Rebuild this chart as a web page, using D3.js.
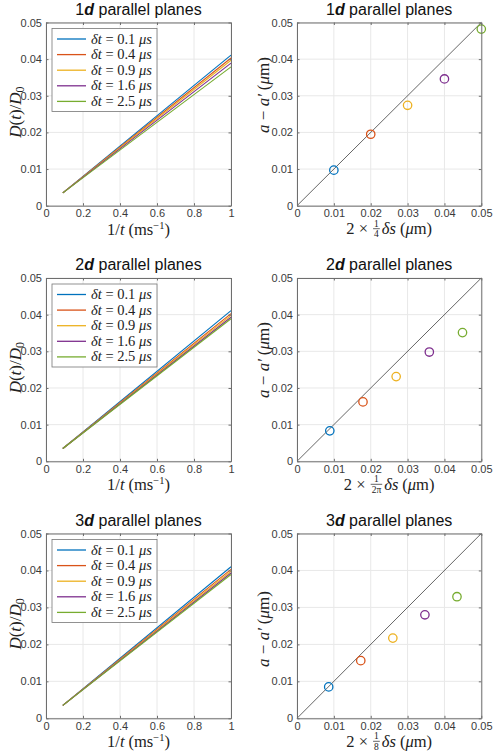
<!DOCTYPE html>
<html><head><meta charset="utf-8">
<script src="https://cdn.jsdelivr.net/npm/d3@7"></script>
<style>body{margin:0;background:#fff}svg{display:block}</style>
</head><body>
<svg id="c" width="494" height="753"></svg>
<script>
// ---------- data ----------
const colors = ["#0072BD", "#D95319", "#EDB120", "#7E2F8E", "#77AC30"];
const legendLabels = ["0.1", "0.4", "0.9", "1.6", "2.5"];
const dims = ["1", "2", "3"];
const xTicksLeft = [0, 0.2, 0.4, 0.6, 0.8, 1];
const yTicks = [0, 0.01, 0.02, 0.03, 0.04, 0.05];
const xTicksRight = [0, 0.01, 0.02, 0.03, 0.04, 0.05];
// line series: x (1/t) and D(t)/D0 values per δt
const lineX = [0.091, 1.0];
const lines1d = [[0.0035, 0.0411], [0.0035, 0.0403], [0.0035, 0.0397], [0.0035, 0.0389], [0.0035, 0.0379]];
const lines2d = [[0.0035, 0.0411], [0.0035, 0.0403], [0.0035, 0.0398], [0.0035, 0.0393], [0.0035, 0.0389]];
const lines3d = [[0.0035, 0.0410], [0.0035, 0.0403], [0.0035, 0.0398], [0.0035, 0.0393], [0.0035, 0.0389]];
// scatter: x = 2 × factor × δs, y = a − a'
const scatX1d = [0.010, 0.020, 0.030, 0.040, 0.050];
const scatY1d = [0.0097, 0.0195, 0.0274, 0.0346, 0.0482];
const scatX2d = [0.0089, 0.0179, 0.0269, 0.0359, 0.0449];
const scatY2d = [0.0083, 0.0162, 0.0231, 0.0298, 0.0351];
const scatX3d = [0.0086, 0.0173, 0.0260, 0.0347, 0.0434];
const scatY3d = [0.0085, 0.0156, 0.0217, 0.0280, 0.0329];
const fracDen = ["4", "2π", "8"];

const linesAll = [lines1d, lines2d, lines3d];
const scatXAll = [scatX1d, scatX2d, scatX3d];
const scatYAll = [scatY1d, scatY2d, scatY3d];

// ---------- layout ----------
const svg = d3.select("#c");
const rows = [{top: 22.5, bot: 205.7}, {top: 278, bot: 461.3}, {top: 533.5, bot: 718.3}];
const leftX = [46, 231];
const rightX = [297, 481.3];
const rightYLabelC = [95, 360, 629];
const SERIF = "'Liberation Serif','Times New Roman',serif";
const SANS = "'Liberation Sans',Arial,Helvetica,sans-serif";
const AXC = "#6e6e6e";

function rich(parent, cx, cy, parts, rot) {
  const outer = parent.append("g").attr("transform", `translate(${cx},${cy}) rotate(${rot || 0})`);
  const g = outer.append("g");
  let x = 0;
  parts.forEach(p => {
    if (p.frac) {
      const fs = 9.5;
      const n = g.append("text").text(p.frac[0]).attr("font-family", SERIF).attr("font-size", fs).attr("fill", "#222");
      const d = g.append("text").text(p.frac[1]).attr("font-family", SERIF).attr("font-size", fs).attr("fill", "#222");
      const w = Math.max(n.node().getComputedTextLength(), d.node().getComputedTextLength()) + 2;
      n.attr("x", x + 1 + w / 2).attr("y", -7.5).attr("text-anchor", "middle");
      d.attr("x", x + 1 + w / 2).attr("y", 3).attr("text-anchor", "middle");
      g.append("line").attr("x1", x + 1).attr("x2", x + 1 + w).attr("y1", -5.5).attr("y2", -5.5)
        .attr("stroke", "#222").attr("stroke-width", 0.7);
      x += w + 3;
    } else {
      const t = g.append("text").text(p.t).attr("x", x).attr("y", p.dy || 0)
        .attr("font-family", SERIF).attr("font-size", p.size || 17)
        .attr("font-style", p.it ? "italic" : "normal").attr("fill", "#222")
        .style("white-space", "pre");
      x += t.node().getComputedTextLength() + (p.sp || 0);
    }
  });
  g.attr("transform", `translate(${-x / 2},0)`);
  return outer;
}

function title(cx, y, dim) {
  const t = svg.append("text").attr("x", cx).attr("y", y).attr("text-anchor", "middle")
    .attr("font-family", SANS).attr("font-size", 16).attr("fill", "#111");
  t.append("tspan").text(dim);
  t.append("tspan").text("d").attr("font-weight", "bold").attr("font-style", "italic");
  t.append("tspan").text(" parallel planes");
}

function frame(x, y, xTicks) {
  const g = svg.append("g");
  const [x0, x1] = x.range();
  const [y0, y1] = y.range();
  xTicks.forEach(v => g.append("line").attr("x1", x(v)).attr("x2", x(v)).attr("y1", y0).attr("y2", y1)
    .attr("stroke", "#e8e8e8").attr("stroke-width", 1));
  yTicks.forEach(v => g.append("line").attr("x1", x0).attr("x2", x1).attr("y1", y(v)).attr("y2", y(v))
    .attr("stroke", "#e8e8e8").attr("stroke-width", 1));
  return g;
}

function axes(x, y, xTicks, fmtX) {
  const [x0, x1] = x.range();
  const [y0, y1] = y.range();
  const ax = svg.append("g").attr("transform", `translate(0,${y0})`)
    .call(d3.axisBottom(x).tickValues(xTicks).tickSizeInner(-2.5).tickSizeOuter(0).tickPadding(4).tickFormat(fmtX));
  const ay = svg.append("g").attr("transform", `translate(${x0},0)`)
    .call(d3.axisLeft(y).tickValues(yTicks).tickSizeInner(-2.5).tickSizeOuter(0).tickPadding(4).tickFormat(d => d === 0 ? "0" : d3.format(".2f")(d)));
  const at = svg.append("g").attr("transform", `translate(0,${y1})`)
    .call(d3.axisTop(x).tickValues(xTicks).tickSizeInner(-2.5).tickSizeOuter(0).tickFormat(""));
  const ar = svg.append("g").attr("transform", `translate(${x1},0)`)
    .call(d3.axisRight(y).tickValues(yTicks).tickSizeInner(-2.5).tickSizeOuter(0).tickFormat(""));
  [ax, ay, at, ar].forEach(a => {
    a.select(".domain").attr("stroke", AXC);
    a.selectAll(".tick line").attr("stroke", AXC);
    a.selectAll(".tick text").attr("font-family", SANS).attr("font-size", 11).attr("fill", "#3a3a3a");
  });
}

rows.forEach((r, i) => {
  // ---------- left panel ----------
  const xl = d3.scaleLinear().domain([0, 1]).range(leftX);
  const yl = d3.scaleLinear().domain([0, 0.05]).range([r.bot, r.top]);
  frame(xl, yl, xTicksLeft);
  const line = d3.line().x(d => xl(d[0])).y(d => yl(d[1]));
  linesAll[i].forEach((s, k) => {
    svg.append("path").datum(lineX.map((xv, j) => [xv, s[j]])).attr("d", line)
      .attr("fill", "none").attr("stroke", colors[k]).attr("stroke-width", 1.1);
  });
  axes(xl, yl, xTicksLeft, d => d === 0 ? "0" : d === 1 ? "1" : d3.format(".1f")(d));
  // legend
  const lx = leftX[0] + 6, ly = r.top + 6, lw = 105, lh = 83;
  const lg = svg.append("g");
  lg.append("rect").attr("x", lx).attr("y", ly).attr("width", lw).attr("height", lh)
    .attr("fill", "#fff").attr("stroke", "#777").attr("stroke-width", 0.8);
  legendLabels.forEach((lab, k) => {
    const yy = ly + 10.5 + k * 15.6;
    lg.append("line").attr("x1", lx + 5).attr("x2", lx + 34).attr("y1", yy).attr("y2", yy)
      .attr("stroke", colors[k]).attr("stroke-width", 1.3);
    const t = lg.append("text").attr("x", lx + 39).attr("y", yy + 4.5)
      .attr("font-family", SERIF).attr("font-size", 14.5).attr("fill", "#222").style("white-space", "pre");
    t.append("tspan").text("δt").attr("font-style", "italic");
    t.append("tspan").text(" = " + lab + " ");
    t.append("tspan").text("μs").attr("font-style", "italic");
  });
  title((leftX[0] + leftX[1]) / 2, r.top - 8, dims[i]);
  rich(svg, 21, (r.top + r.bot) / 2 - 2, [
    {t: "D", it: true}, {t: "("}, {t: "t", it: true}, {t: ")/"}, {t: "D", it: true}, {t: "0", size: 12, dy: 3}
  ], -90);
  rich(svg, (leftX[0] + leftX[1]) / 2, r.bot + 29, [
    {t: "1/", size: 16.5}, {t: "t", it: true, sp: 4, size: 16.5}, {t: "(ms", size: 16.5}, {t: "−1", size: 10.5, dy: -6}, {t: ")", size: 16.5}
  ]);

  // ---------- right panel ----------
  const xr = d3.scaleLinear().domain([0, 0.05]).range(rightX);
  const yr = d3.scaleLinear().domain([0, 0.05]).range([r.bot, r.top]);
  frame(xr, yr, xTicksRight);
  svg.append("line").attr("x1", xr(0)).attr("y1", yr(0)).attr("x2", xr(0.05)).attr("y2", yr(0.05))
    .attr("stroke", "#555").attr("stroke-width", 0.9);
  scatXAll[i].forEach((xv, k) => {
    svg.append("circle").attr("cx", xr(xv)).attr("cy", yr(scatYAll[i][k])).attr("r", 4.2)
      .attr("fill", "none").attr("stroke", colors[k]).attr("stroke-width", 1.3);
  });
  axes(xr, yr, xTicksRight, d => d === 0 ? "0" : d3.format(".2f")(d));
  title((rightX[0] + rightX[1]) / 2, r.top - 8, dims[i]);
  rich(svg, 269, rightYLabelC[i], [
    {t: "a", it: true}, {t: " − "}, {t: "a′", it: true, sp: 4}, {t: "("}, {t: "μ", it: true}, {t: "m)"}
  ], -90);
  rich(svg, (rightX[0] + rightX[1]) / 2, r.bot + 28.5, [
    {t: "2 × ", size: 16.5}, {frac: ["1", fracDen[i]]}, {t: "δs", it: true, sp: 4, size: 16.5}, {t: "(", size: 16.5}, {t: "μ", it: true, size: 16.5}, {t: "m)", size: 16.5}
  ]);
});
</script>
</body></html>
